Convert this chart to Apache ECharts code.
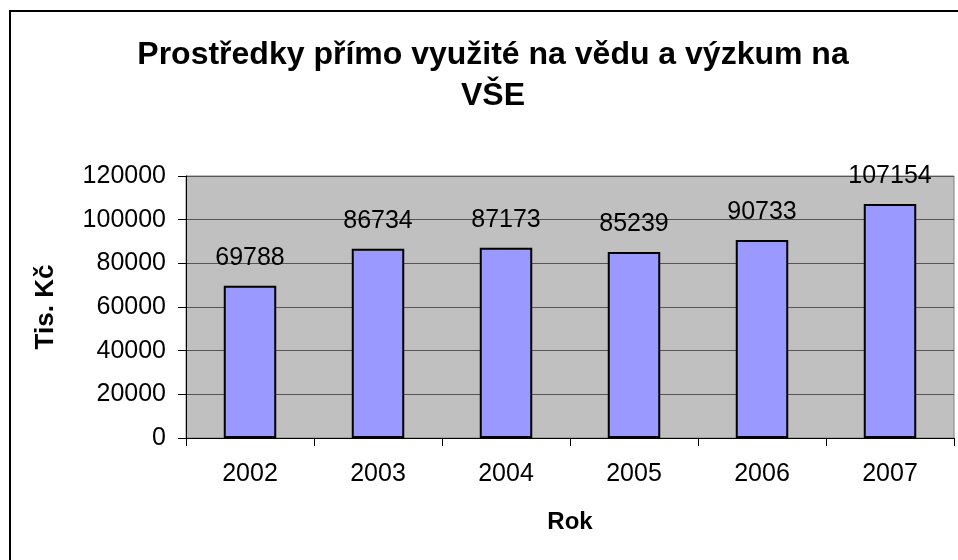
<!DOCTYPE html>
<html lang="cs" style="height: 100%">
<head>
    <meta charset="utf-8">
    <title>Prostředky na vědu a výzkum</title>
    <script src="https://cdn.jsdelivr.net/npm/echarts@6.0.0/dist/echarts.min.js"></script>
    <style>
        html, body { margin: 0; padding: 0; background: #fff; }
        #chart { width: 958px; height: 560px; }
    </style>
</head>
<body>
<div id="chart"></div>

<script type="text/javascript">
    var titleLines = ['Prostředky přímo využité na vědu a výzkum na', 'VŠE'];
    var years = ['2002', '2003', '2004', '2005', '2006', '2007'];
    var values = [69788, 86734, 87173, 85239, 90733, 107154];
    var yMax = 120000;
    var yStep = 20000;

    var font = '"Liberation Sans", Arial, sans-serif';
    var myChart = echarts.init(document.getElementById('chart'));

    myChart.setOption({
        animation: false,
        textStyle: { fontFamily: font },
        graphic: [{
            // outer chart border (only left/top visible in the picture)
            type: 'rect',
            shape: { x: 10, y: 11, width: 1200, height: 1200 },
            style: { fill: 'none', stroke: '#000', lineWidth: 2 },
            silent: true
        }, {
            type: 'text',
            x: 493,
            y: 35,
            style: {
                text: titleLines.join('\n'),
                font: 'bold 32px ' + font,
                textAlign: 'center',
                lineHeight: 41,
                fill: '#000'
            }
        }],
        grid: {
            left: 186,
            right: 4,
            top: 176,
            bottom: 122,
            show: true,
            backgroundColor: '#c0c0c0',
            borderColor: '#808080',
            borderWidth: 1
        },
        xAxis: {
            type: 'category',
            data: years,
            name: 'Rok',
            nameLocation: 'middle',
            nameGap: 72,
            nameTextStyle: { fontSize: 24, fontWeight: 'bold', color: '#000' },
            axisLine: { lineStyle: { color: '#000', width: 1 } },
            axisTick: { show: true, length: 8, lineStyle: { color: '#000' } },
            axisLabel: { fontSize: 25, color: '#000', margin: 24 }
        },
        yAxis: {
            type: 'value',
            min: 0,
            max: yMax,
            interval: yStep,
            name: 'Tis. Kč',
            nameLocation: 'middle',
            nameRotate: 90,
            nameGap: 127,
            nameTextStyle: { fontSize: 26, fontWeight: 'bold', color: '#000' },
            axisLine: { show: true, lineStyle: { color: '#000', width: 1 } },
            axisTick: { show: true, length: 8, lineStyle: { color: '#000' } },
            axisLabel: {
                fontSize: 25,
                color: '#000',
                margin: 20,
                formatter: function (v) { return String(v); }
            },
            splitLine: { show: true, lineStyle: { color: '#555', width: 1 } }
        },
        series: [{
            type: 'bar',
            data: values,
            barWidth: '41%',
            itemStyle: { color: '#9999ff', borderColor: '#000', borderWidth: 2 },
            label: {
                show: true,
                position: 'top',
                distance: 15,
                fontSize: 25,
                color: '#000'
            }
        }]
    });
</script>
</body>
</html>
